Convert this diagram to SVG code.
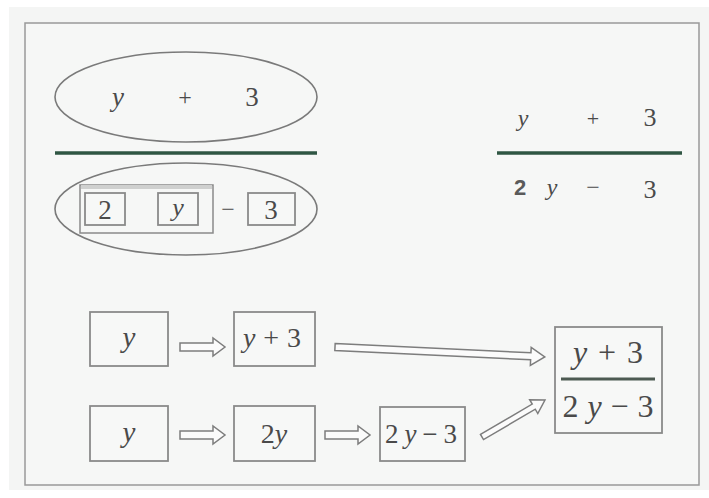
<svg xmlns="http://www.w3.org/2000/svg" width="709" height="498" viewBox="0 0 709 498">
<style>
.ell{fill:none;stroke:#7a7a7a;stroke-width:1.6}
.box{fill:#f7f8f7;stroke:#8a8a8a;stroke-width:1.8}
.bar{stroke:#2f5643;stroke-width:3.5}
.m{font-family:"Liberation Serif","Times New Roman","DejaVu Serif",serif;fill:#4a4a4a;text-anchor:middle}
.i{font-style:italic}
.s{font-family:"Liberation Sans","DejaVu Sans",sans-serif;font-weight:bold;fill:#5a5a5a;text-anchor:middle}
.arr{fill:#fbfbfb;stroke:#7d7d7d;stroke-width:1.5;stroke-linejoin:miter}
</style>
<rect x="0" y="0" width="709" height="498" fill="#ffffff"/>
<rect x="9" y="7" width="700" height="483" fill="#f4f5f4"/>
<rect x="25" y="23" width="674" height="462" fill="#f6f7f6" stroke="#999" stroke-width="1.5"/>

<g id="numerator-ellipse">
<ellipse class="ell" cx="186" cy="97" rx="131" ry="45"/>
<text class="m i" x="118" y="106" font-size="27">y</text>
<text class="m" x="185" y="105" font-size="24" fill="#888">+</text>
<text class="m" x="252" y="106" font-size="27">3</text>
</g>
<g id="left-bar"><line class="bar" x1="55" y1="153" x2="317" y2="153"/></g>
<g id="denominator-ellipse">
<ellipse class="ell" cx="186" cy="209" rx="131" ry="46"/>
<rect x="80" y="185" width="133" height="48" fill="none" stroke="#8a8a8a" stroke-width="1.5"/>
<rect x="81" y="185" width="131" height="4" fill="#cfd0cf"/>
<rect class="box" x="85" y="193" width="40" height="32"/>
<text class="m" x="105" y="219" font-size="27">2</text>
<rect class="box" x="158" y="193" width="40" height="32"/>
<text class="m i" x="178" y="216" font-size="26">y</text>
<text class="m" x="228" y="217" font-size="24">−</text>
<rect class="box" x="248" y="193" width="47" height="32"/>
<text class="m" x="271" y="219" font-size="27">3</text>
</g>

<g id="right-fraction">
<text class="m i" x="523" y="126" font-size="24">y</text>
<text class="m" x="593" y="126" font-size="22" fill="#888">+</text>
<text class="m" x="650" y="126" font-size="26">3</text>
<line class="bar" x1="497" y1="153" x2="682" y2="153"/>
<text class="s" x="520" y="195" font-size="22">2</text>
<text class="m i" x="552" y="195" font-size="24">y</text>
<text class="m" x="593" y="195" font-size="24">−</text>
<text class="m" x="650" y="198" font-size="26">3</text>
</g>

<g id="box-y1"><rect class="box" x="90" y="312" width="78" height="54"/><text class="m i" x="129" y="347" font-size="29">y</text></g>
<g id="box-y-plus-3"><rect class="box" x="234" y="312" width="81" height="54"/><text class="m" x="272" y="347" font-size="28" textLength="58" lengthAdjust="spacing"><tspan font-style="italic">y</tspan>+3</text></g>
<g id="box-y2"><rect class="box" x="90" y="406" width="78" height="55"/><text class="m i" x="129" y="442" font-size="29">y</text></g>
<g id="box-2y"><rect class="box" x="234" y="406" width="81" height="55"/><text class="m" x="274" y="443" font-size="28">2<tspan font-style="italic">y</tspan></text></g>
<g id="box-2y-minus-3"><rect class="box" x="380" y="407" width="85" height="54"/><text class="m" x="421" y="443" font-size="27" textLength="72" lengthAdjust="spacing">2<tspan font-style="italic">y</tspan>−3</text></g>
<g id="box-result">
<rect class="box" x="555" y="327" width="107" height="106"/>
<text class="m" x="608" y="363" font-size="32" textLength="70" lengthAdjust="spacing"><tspan font-style="italic">y</tspan>+3</text>
<line x1="561" y1="379" x2="655" y2="379" stroke="#4d5a52" stroke-width="3"/>
<text class="m" x="608" y="417" font-size="32" textLength="91" lengthAdjust="spacing">2<tspan font-style="italic">y</tspan>−3</text>
</g>

<g id="connectors">
<polygon class="arr" points="180,343 213,343 213,338 225,347 213,356 213,351 180,351"/>
<polygon class="arr" points="180,431 213,431 213,426 225,435 213,444 213,439 180,439"/>
<polygon class="arr" points="325,431 358,431 358,426 370,435 358,444 358,439 325,439"/>
<g transform="translate(335,347) rotate(2.73)"><polygon class="arr" points="0,-3.5 196,-3.5 196,-9 210,0 196,9 196,3.5 0,3.5"/></g>
<g transform="translate(482,437) rotate(-30.4)"><polygon class="arr" points="0,-3 60,-3 60,-8 73,0 60,8 60,3 0,3"/></g>
</g>
</svg>
